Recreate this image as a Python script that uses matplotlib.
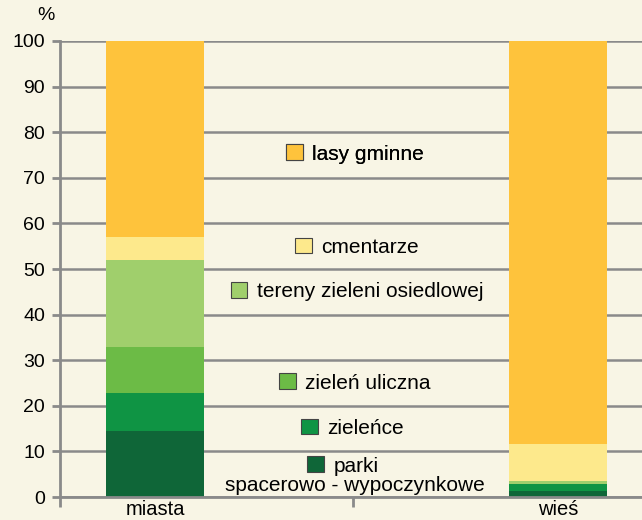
import matplotlib.pyplot as plt
from matplotlib.patches import Patch

plt.rcParams['font.family'] = ['Liberation Sans', 'DejaVu Sans']

# dane: udział (%) rodzajów terenów zieleni
kategorie = ['miasta', 'wieś']
parki = [14.5, 1.3]
zielence = [8.4, 1.5]
zielen_uliczna = [10.0, 0.0]
osiedlowa = [19.1, 0.7]
cmentarze = [5.0, 8.1]
lasy = [43.0, 88.4]

serie = [
    ('parki', parki, '#0f6638'),
    ('zieleńce', zielence, '#0f9444'),
    ('zieleń uliczna', zielen_uliczna, '#6cbb46'),
    ('tereny zieleni osiedlowej', osiedlowa, '#a0cf6c'),
    ('cmentarze', cmentarze, '#fde98c'),
    ('lasy gminne', lasy, '#fec33c'),
]

tlo = '#f8f5e5'
szary = '#8a8a8a'

fig = plt.figure(figsize=(6.42, 5.20), dpi=100, facecolor=tlo)
ax = fig.add_axes([60 / 642, 23 / 520, 582 / 642, 456 / 520], facecolor=tlo)

x = [0, 1]
dol = [0, 0]
for nazwa, vals, kolor in serie:
    ax.bar(x, vals, width=0.243, bottom=dol, color=kolor, zorder=3)
    dol = [d + v for d, v in zip(dol, vals)]

ax.set_xlim(-0.236, 1.208)
ax.set_ylim(0, 100)
ax.set_yticks(range(0, 101, 10))
ax.yaxis.grid(True, color=szary, linewidth=1.8, zorder=1)
ax.set_axisbelow(True)

ax.set_xticks(x)
ax.set_xticklabels(kategorie)
ax.set_xticks([-0.236, 0.491], minor=True)
ax.tick_params(axis='x', which='major', length=0, labelsize=14.5, pad=2)
ax.tick_params(axis='x', which='minor', length=7, width=2, color=szary)
ax.tick_params(axis='y', length=5.8, width=2, color=szary, labelsize=14, pad=5)

for s in ['top', 'right']:
    ax.spines[s].set_visible(False)
for s in ['left', 'bottom']:
    ax.spines[s].set_color(szary)
    ax.spines[s].set_linewidth(2)
ax.spines['bottom'].set_zorder(4)

ax.text(-0.025, 1.055, '%', transform=ax.transAxes, fontsize=14, ha='center', va='center')

# opisy z kwadracikami
pozycje = {
    'lasy gminne': (0.507, 0.752),
    'cmentarze': (0.510, 0.548),
    'tereny zieleni osiedlowej': (0.510, 0.450),
    'zieleń uliczna': (0.507, 0.250),
    'zieleńce': (0.503, 0.151),
    'parki': (0.486, 0.068),
}
for nazwa, vals, kolor in serie:
    h = Patch(facecolor=kolor, edgecolor='#444444', linewidth=0.8)
    leg = ax.legend(handles=[h], labels=[nazwa], loc='center',
                    bbox_to_anchor=pozycje[nazwa], bbox_transform=ax.transAxes,
                    frameon=False, fontsize=15, handlelength=0.8, handleheight=0.8,
                    handletextpad=0.45, borderpad=0, borderaxespad=0)
    ax.add_artist(leg)

ax.text(0.507, 0.026, 'spacerowo - wypoczynkowe', transform=ax.transAxes,
        fontsize=15, ha='center', va='center')

fig.savefig('out.png', dpi=100, facecolor=tlo)
